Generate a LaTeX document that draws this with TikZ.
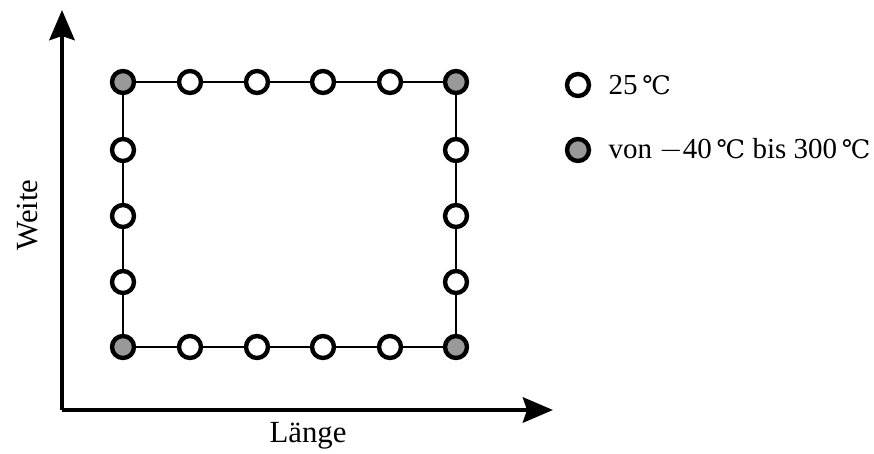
\documentclass[tikz,border=0pt]{standalone}
\usepackage{fontspec}
\setmainfont{Liberation Serif}
\newfontfamily\degfont[Scale=0.88]{DejaVu Serif}
\newcommand{\gradC}{{\degfont ℃}}
\usetikzlibrary{arrows.meta,positioning,backgrounds}

\begin{document}
\begin{tikzpicture}[
  x=0.02cm, y=-0.02cm,
  font=\fontsize{17.5}{21}\selectfont,
  dot/.style={circle,draw,line width=2.5pt,minimum size=0.44cm,inner sep=0pt,fill=white},
  hot/.style={dot,fill=black!40},
  frame/.style={line width=1.2pt},
  axis/.style={line width=2.8pt,-{Stealth[length=0.6cm,width=0.5cm,inset=0.08cm]}},
  legtext/.style={inner xsep=0pt,font=\fontsize{16.5}{20}\selectfont}
]
  \useasboundingbox (0,0) rectangle (874,453);

  % Axes
  \coordinate (o) at (62,410);
  \coordinate (xend) at (553,410);
  \coordinate (yend) at (62,10);
  \draw[axis] (o) -- (xend);
  \draw[axis] (o) -- (yend);
  \node (laenge) at (308,436) {Länge};
  \node[rotate=90] (weite) at (28,215) {Weite};

  % Corner points
  \node[hot] (tl) at (123,82) {};
  \node[hot] (tr) at (456,82) {};
  \node[hot] (bl) at (123,347) {};
  \node[hot] (br) at (456,347) {};

  % Edge points
  \foreach \x [count=\i] in {190,257,323,390} {
    \node[dot] (t\i) at (\x,82) {};
    \node[dot] (b\i) at (\x,347) {};
  }
  \foreach \y [count=\i] in {150,216,282} {
    \node[dot] (l\i) at (123,\y) {};
    \node[dot] (r\i) at (456,\y) {};
  }

  % Frame
  \begin{scope}[on background layer]
    \draw[frame] (tl.center) -- (tr.center) -- (br.center) -- (bl.center) -- cycle;
  \end{scope}

  % Legend
  \node[dot] (k1) at (578,85) {};
  \node[hot] (k2) at (578,150) {};
  \node[legtext,right=0.34cm of k1] (k1text) {25\,\gradC};
  \node[legtext,right=0.34cm of k2] (k2text) {von $-$40\,\gradC{} bis 300\,\gradC};
\end{tikzpicture}
\end{document}
